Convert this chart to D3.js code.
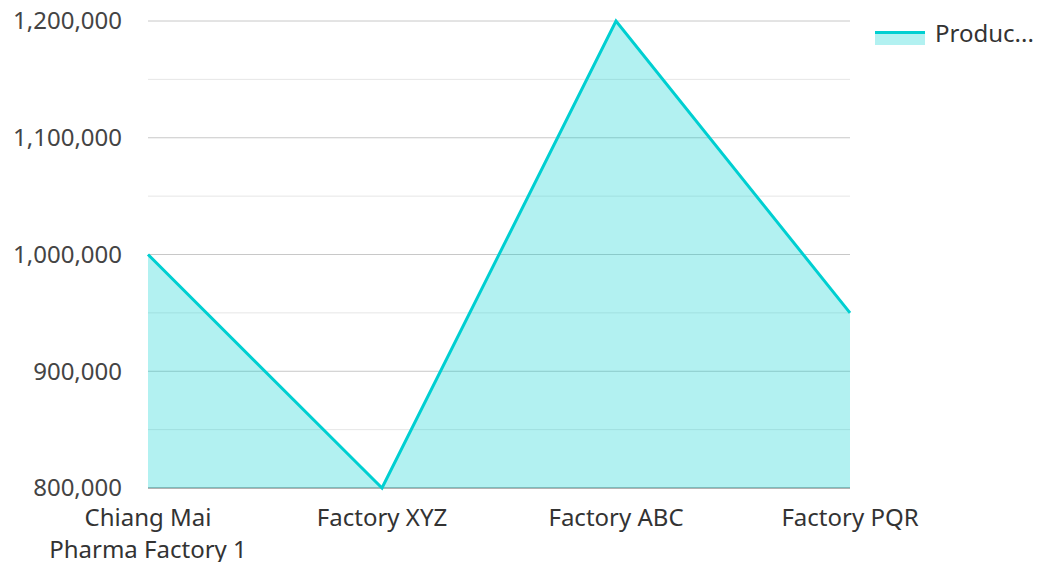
<!DOCTYPE html>
<html>
<head>
<meta charset="utf-8">
<script src="https://cdn.jsdelivr.net/npm/d3@7"></script>
<style>
  body { margin: 0; background: #fff; overflow: hidden; }
  text { font-family: "Noto Sans", "Open Sans", sans-serif; }
</style>
</head>
<body>
<div id="chart"></div>
<script>
// Chart data
const categories = ['Chiang Mai\nPharma Factory 1', 'Factory XYZ', 'Factory ABC', 'Factory PQR'];
const production = [1000000, 800000, 1200000, 950000];
const seriesName = 'Production';
const majorTicks = [800000, 900000, 1000000, 1100000, 1200000];
const minorTicks = [850000, 950000, 1050000, 1150000];

const width = 1040;
const height = 562;
const margin = { top: 21, right: 190, bottom: 74, left: 148 };

const svg = d3.select('#chart')
  .append('svg')
  .attr('width', width)
  .attr('height', height)
  .style('display', 'block');

const x = d3.scalePoint()
  .domain(categories)
  .range([margin.left, width - margin.right]);

const y = d3.scaleLinear()
  .domain([800000, 1200000])
  .range([height - margin.bottom, margin.top]);

const lineColor = '#00cfd1';
const fmt = d3.format(',');

// Minor gridlines
svg.append('g')
  .selectAll('line')
  .data(minorTicks)
  .join('line')
  .attr('x1', margin.left)
  .attr('x2', width - margin.right)
  .attr('y1', d => y(d))
  .attr('y2', d => y(d))
  .attr('stroke', '#e6e6e6')
  .attr('stroke-width', 1);

// Major gridlines
svg.append('g')
  .selectAll('line')
  .data(majorTicks)
  .join('line')
  .attr('x1', margin.left)
  .attr('x2', width - margin.right)
  .attr('y1', d => y(d))
  .attr('y2', d => y(d))
  .attr('stroke', d => d === 800000 ? '#999' : '#c8c8c8')
  .attr('stroke-width', d => d === 800000 ? 1.5 : 1);

// Area + line
const area = d3.area()
  .x((d, i) => x(categories[i]))
  .y0(y(800000))
  .y1(d => y(d));

const line = d3.line()
  .x((d, i) => x(categories[i]))
  .y(d => y(d));

svg.append('path')
  .datum(production)
  .attr('d', area)
  .attr('fill', lineColor)
  .attr('fill-opacity', 0.3);

svg.append('path')
  .datum(production)
  .attr('d', line)
  .attr('fill', 'none')
  .attr('stroke', lineColor)
  .attr('stroke-width', 3);

// Y labels
svg.append('g')
  .selectAll('text')
  .data(majorTicks)
  .join('text')
  .attr('x', 122)
  .attr('y', d => y(d))
  .attr('dy', '0.35em')
  .attr('text-anchor', 'end')
  .attr('fill', '#444')
  .style('font-size', '24px')
  .text(d => fmt(d));

// X labels
svg.append('g')
  .selectAll('text')
  .data(categories)
  .join('text')
  .attr('x', d => x(d))
  .attr('y', height - margin.bottom + 38)
  .attr('text-anchor', 'middle')
  .attr('fill', '#333')
  .style('font-size', '24px')
  .each(function(d) {
    const t = d3.select(this);
    d.split('\n').forEach((part, i) => {
      t.append('tspan')
        .attr('x', x(d))
        .attr('dy', i === 0 ? 0 : 32)
        .text(part);
    });
  });

// Legend
const legend = svg.append('g').attr('transform', 'translate(875, 31)');
legend.append('rect')
  .attr('x', 0).attr('y', 0)
  .attr('width', 50).attr('height', 14)
  .attr('fill', lineColor)
  .attr('fill-opacity', 0.3);
legend.append('line')
  .attr('x1', 0).attr('x2', 50)
  .attr('y1', 1.5).attr('y2', 1.5)
  .attr('stroke', lineColor)
  .attr('stroke-width', 3);
legend.append('text')
  .attr('x', 60)
  .attr('y', 3)
  .attr('dy', '0.35em')
  .attr('fill', '#333')
  .style('font-size', '24px')
  .text(seriesName.slice(0, 6) + '...');
</script>
</body>
</html>
